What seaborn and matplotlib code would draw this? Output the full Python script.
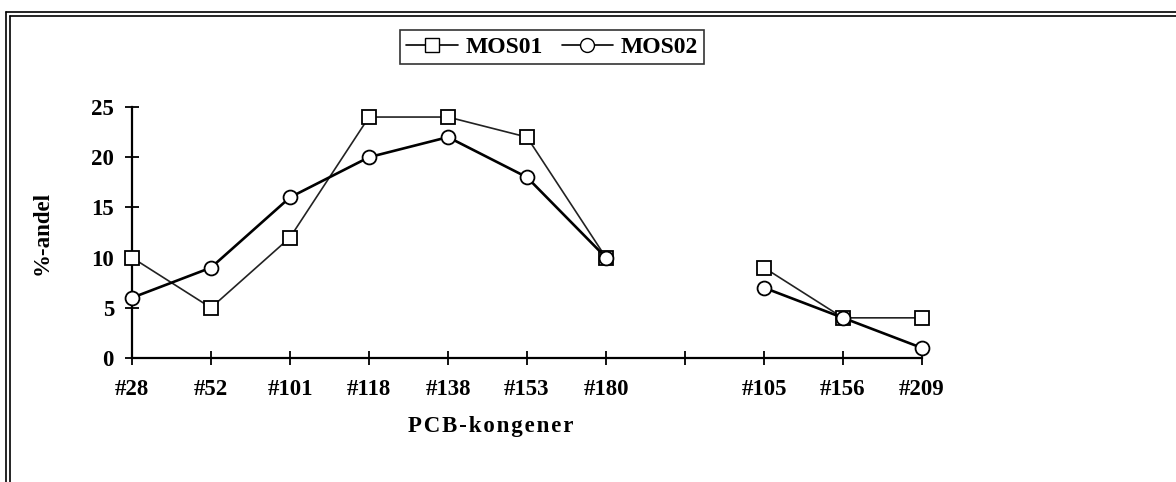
import numpy as np
import pandas as pd
import matplotlib.pyplot as plt
import seaborn as sns
from matplotlib.lines import Line2D

# congeners on the x axis, an empty slot marks the gap between the two groups
categories = ["#28", "#52", "#101", "#118", "#138", "#153", "#180", "", "#105", "#156", "#209"]
mos01 = [10, 5, 12, 24, 24, 22, 10, np.nan, 9, 4, 4]
mos02 = [6, 9, 16, 20, 22, 18, 10, np.nan, 7, 4, 1]
y_ticks = [0, 5, 10, 15, 20, 25]

sns.set_style("white")
plt.rcParams["font.family"] = ["Liberation Serif", "DejaVu Serif"]
plt.rcParams["font.weight"] = "bold"
plt.rcParams["text.color"] = "black"
plt.rcParams["axes.labelcolor"] = "black"

W, H = 1176, 482
fig = plt.figure(figsize=(W / 100, H / 100), dpi=100)
ax = fig.add_axes([132 / W, 1 - 358 / H, 790 / W, 251 / H])

pos = np.arange(len(categories))
df = pd.DataFrame({"pos": pos, "MOS01": mos01, "MOS02": mos02})
gap = categories.index("")
segments = [df[df.pos < gap], df[df.pos > gap]]

styles = {
    "MOS01": dict(marker="s", lw=1.2, ms=10, color="#222222"),
    "MOS02": dict(marker="o", lw=1.9, ms=10, color="black"),
}

for name, st in styles.items():
    for seg in segments:
        sns.lineplot(x=seg["pos"], y=seg[name], ax=ax, color=st["color"], lw=st["lw"],
                     marker=st["marker"], markersize=st["ms"], markerfacecolor="white",
                     markeredgecolor="black", markeredgewidth=1.3, clip_on=False,
                     zorder=3)

ax.set_xlim(0, len(categories) - 1)
ax.set_ylim(0, 25)
ax.set_xticks(pos)
ax.set_xticklabels(categories)
ax.set_yticks(y_ticks)
ax.tick_params(axis="both", direction="inout", length=10, width=1.3, labelsize=16.5,
               colors="black", bottom=True, left=True)
ax.tick_params(axis="x", pad=10)
ax.tick_params(axis="y", pad=8)

for s in ["top", "right"]:
    ax.spines[s].set_visible(False)
for s in ["left", "bottom"]:
    ax.spines[s].set_color("black")
    ax.spines[s].set_linewidth(1.6)

ax.set_xlabel("\u200a".join("PCB-kongener"), fontsize=16.5, fontweight="bold")
ax.set_ylabel("%-andel", fontsize=16.5, fontweight="bold")
ax.xaxis.set_label_coords(0.454, -0.231)
ax.yaxis.set_label_coords(-0.100, 0.5)

handles = [
    Line2D([], [], color="black", lw=1.2, marker="s", ms=10, mfc="white", mec="black"),
    Line2D([], [], color="black", lw=1.2, marker="o", ms=10, mfc="white", mec="black"),
]
leg = fig.legend(handles, ["MOS01", "MOS02"], loc="center", bbox_to_anchor=(552 / W, 1 - 47 / H),
                 ncol=2, fontsize=17, frameon=True, fancybox=False, handlelength=2.2,
                 handletextpad=0.3, columnspacing=0.8, borderpad=0.25)
leg.get_frame().set_edgecolor("black")
leg.get_frame().set_linewidth(1.2)

# double frame around the chart (left and top edges of the scanned page)
for off in (0, 4):
    fig.add_artist(Line2D([(6 + off) / W, (6 + off) / W], [0, 1 - (12 + off) / H],
                          color="black", lw=1.2))
    fig.add_artist(Line2D([(6 + off) / W, 1], [1 - (12 + off) / H, 1 - (12 + off) / H],
                          color="black", lw=1.2))

fig.savefig("out.png", dpi=100)
